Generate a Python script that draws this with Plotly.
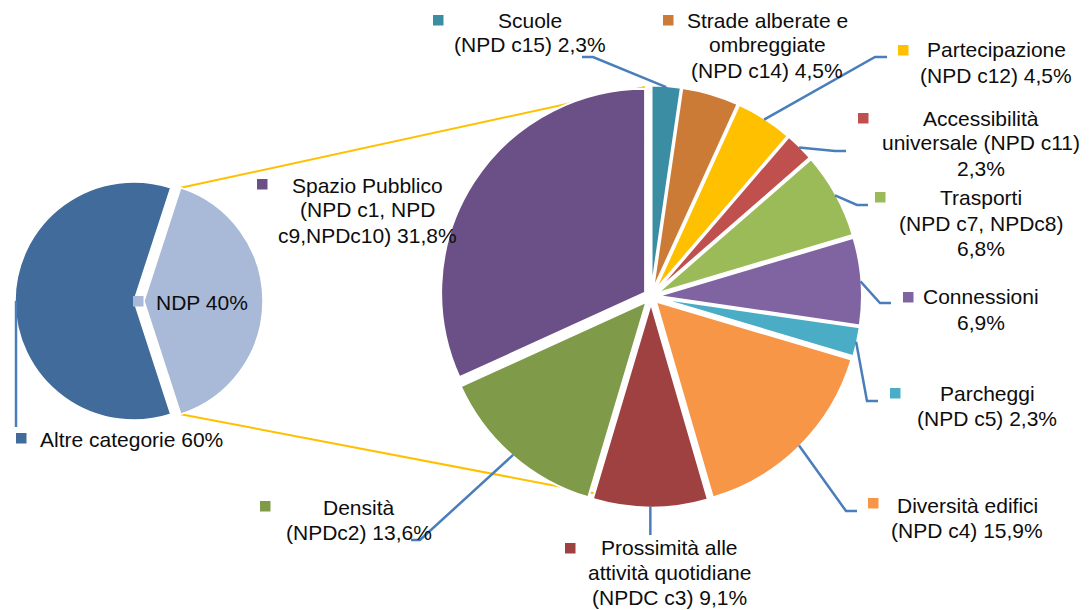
import math
import plotly.graph_objects as go

# ---- data -------------------------------------------------------------
outer_labels = ["NDP", "Altre categorie"]
outer_values = [40, 60]
outer_colors = ["#A9B9D8", "#406B9B"]

ndp_labels = [
    "Scuole", "Strade alberate e ombreggiate", "Partecipazione",
    "Accessibilità universale", "Trasporti", "Connessioni", "Parcheggi",
    "Diversità edifici", "Prossimità alle attività quotidiane", "Densità",
    "Spazio Pubblico",
]
ndp_values = [2.3, 4.5, 4.5, 2.3, 6.8, 6.9, 2.3, 15.9, 9.1, 13.6, 31.8]
ndp_colors = [
    "#3B8DA4", "#CC7B37", "#FFC000", "#C0504D", "#9BBB59", "#8064A2",
    "#4BACC6", "#F79646", "#9E4140", "#7F9B4A", "#6A5086",
]

# label text per slice, "|" = line break, {p} = percentage
ndp_label_text = [
    "Scuole|(NPD c15) {p}",
    "Strade alberate e|ombreggiate|(NPD c14) {p}",
    "Partecipazione|(NPD c12) {p}",
    "Accessibilità|universale (NPD c11)|{p}",
    "Trasporti|(NPD c7, NPDc8)|{p}",
    "Connessioni|{p}",
    "Parcheggi|(NPD c5) {p}",
    "Diversità edifici|(NPD c4) {p}",
    "Prossimità alle|attività quotidiane|(NPDC c3) {p}",
    "Densità|(NPDc2) {p}",
    "Spazio Pubblico|(NPD c1, NPD|c9,NPDc10) {p}",
]
outer_label_text = ["NDP {p}", "Altre categorie {p}"]

# ---- layout constants (pixels) ---------------------------------------
W, H = 1091, 610
FONT = "Liberation Sans, Arial, sans-serif"
FS = 21
LINE_H = 25
LEADER = "#4A7EBB"
CONNECT = "#FFC000"

L_CX, L_CY, L_R, L_P = 139, 301, 119, 5
R_CX, R_CY, R_R, R_P = 651, 296.5, 204, 7

# (text centre x, first line y, key square x, key square y, leader path)
ndp_label_pos = [
    (530, 20, 433, 15, [(593, 57), (582, 57)]),
    (767, 20, 663, 15, None),
    (996, 50, 898, 45, [(875, 57), (887, 57)]),
    (981, 118, 858, 113, [(835, 151), (846, 151)]),
    (981, 198, 875, 192, [(857, 205), (868, 205)]),
    (981, 297, 903, 292, [(880, 303), (891, 303)]),
    (987, 393, 890, 388, [(867, 401), (878, 401)]),
    (967, 505, 868, 498, [(846, 511), (857, 511)]),
    (669, 547, 565, 543, [("v", 535)]),
    (359, 507, 260, 501, [(420, 540), (411, 540)]),
    (368, 185, 257, 179, None),
]
outer_label_pos = [
    (202, 302, 133, 296, None),
    (131, 439, 16, 433, [("v", 427)]),
]
CONNECT_ENDS = [(645, 87), (640, 502)]


def fx(x):
    return x / W


def fy(y):
    return 1 - y / H


def pct(v):
    return (f"{v:.1f}" if v % 1 else f"{v:.0f}").replace(".", ",") + "%"


def domain(cx, cy, r, p):
    half = r + p
    return dict(x=[fx(cx - half), fx(cx + half)], y=[fy(cy + half), fy(cy - half)])


def mid_angles(values, rotation):
    total = sum(values)
    out, acc = [], 0.0
    for v in values:
        out.append(rotation + 360 * (acc + v / 2) / total)
        acc += v
    return out


def edge_point(cx, cy, r, ang_deg):
    a = math.radians(ang_deg)
    return cx + r * math.sin(a), cy - r * math.cos(a)


fig = go.Figure()

OUTER_ROT = 18
fig.add_trace(go.Pie(
    labels=outer_labels, values=outer_values, sort=False, direction="clockwise",
    rotation=OUTER_ROT, pull=[L_P / L_R] * 2, textinfo="none", hoverinfo="label+percent",
    marker=dict(colors=outer_colors, line=dict(color="white", width=1.5)),
    domain=domain(L_CX, L_CY, L_R, L_P), showlegend=False,
))
fig.add_trace(go.Pie(
    labels=ndp_labels, values=ndp_values, sort=False, direction="clockwise",
    rotation=0, pull=[R_P / R_R] * len(ndp_values), textinfo="none",
    hoverinfo="label+value",
    marker=dict(colors=ndp_colors, line=dict(color="white", width=2)),
    domain=domain(R_CX, R_CY, R_R, R_P), showlegend=False,
))

shapes, annotations = [], []

# connector lines from the NDP slice edges to the breakdown pie
ndp_share = outer_values[0] / sum(outer_values) * 360
apex_x = L_CX + L_P * math.sin(math.radians(OUTER_ROT + ndp_share / 2))
apex_y = L_CY - L_P * math.cos(math.radians(OUTER_ROT + ndp_share / 2))
for ang, end in zip([OUTER_ROT, OUTER_ROT + ndp_share], CONNECT_ENDS):
    sx, sy = edge_point(apex_x, apex_y, L_R, ang)
    shapes.append(dict(type="line", layer="below", xref="paper", yref="paper",
                       x0=fx(sx), y0=fy(sy), x1=fx(end[0]), y1=fy(end[1]),
                       line=dict(color=CONNECT, width=2)))


def add_labels(values, texts, positions, colors, cx, cy, r, p, rotation):
    for v, tmpl, pos, col, ang in zip(values, texts, positions, colors,
                                      mid_angles(values, rotation)):
        tx, ty, sqx, sqy, path = pos
        for i, line in enumerate(tmpl.format(p=pct(v)).split("|")):
            annotations.append(dict(
                x=fx(tx), y=fy(ty + i * LINE_H), xref="paper", yref="paper",
                text=line, showarrow=False, xanchor="center", yanchor="middle",
                font=dict(family=FONT, size=FS, color="#0D0D0D")))
        shapes.append(dict(type="rect", xref="paper", yref="paper",
                           x0=fx(sqx), x1=fx(sqx + 10.5), y0=fy(sqy + 10.5), y1=fy(sqy),
                           fillcolor=col, line=dict(width=0)))
        if path:
            sx, sy = edge_point(cx, cy, r + p - 1, ang)
            pts = [(sx, sy)]
            for px_, py_ in path:
                pts.append((sx if px_ == "v" else px_, py_))
            d = "M " + " L ".join(f"{fx(a):.5f},{fy(b):.5f}" for a, b in pts)
            shapes.append(dict(type="path", path=d, xref="paper", yref="paper",
                               line=dict(color=LEADER, width=2.5)))


add_labels(ndp_values, ndp_label_text, ndp_label_pos, ndp_colors,
           R_CX, R_CY, R_R, R_P, 0)
add_labels(outer_values, outer_label_text, outer_label_pos, outer_colors,
           L_CX, L_CY, L_R, L_P, OUTER_ROT)

fig.update_layout(
    width=W, height=H, margin=dict(l=0, r=0, t=0, b=0),
    paper_bgcolor="white", plot_bgcolor="white",
    shapes=shapes, annotations=annotations,
)

fig.write_html("out.html")
